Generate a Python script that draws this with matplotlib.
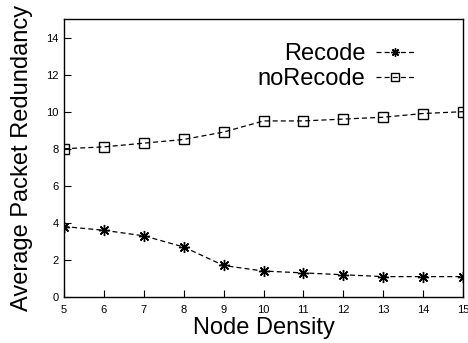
import matplotlib
matplotlib.use("Agg")
import matplotlib.pyplot as plt

plt.rcParams['font.family'] = ['Liberation Sans', 'DejaVu Sans']

node_density = [5, 6, 7, 8, 9, 10, 11, 12, 13, 14, 15]
recode = [3.8, 3.6, 3.3, 2.7, 1.7, 1.4, 1.3, 1.2, 1.1, 1.1, 1.1]
no_recode = [8.0, 8.1, 8.3, 8.5, 8.9, 9.5, 9.5, 9.6, 9.7, 9.9, 10.0]
y_ticks = [0, 2, 4, 6, 8, 10, 12, 14]

fig = plt.figure(figsize=(4.68, 3.43), dpi=100)
ax = fig.add_axes([64/468, 1-297/343, (463-64)/468, (297-19)/343])

dash = (0, (4, 2.5))
ax.plot(node_density, recode, linestyle=dash, color='black', linewidth=0.9,
        marker=(8, 2, 0), markersize=8, markeredgewidth=1.0, label='Recode')
ax.plot(node_density, no_recode, linestyle=dash, color='black', linewidth=0.9,
        marker='s', markersize=7.5, markerfacecolor='none', markeredgewidth=1.0, label='noRecode')

ax.set_xlim(5, 15)
ax.set_ylim(0, 15)
ax.set_xticks(node_density)
ax.set_yticks(y_ticks)
ax.tick_params(direction='in', length=5, width=0.8, labelsize=8, top=False, right=False)
ax.tick_params(axis='x', pad=6)
ax.tick_params(axis='y', pad=4)
for s in ax.spines.values():
    s.set_linewidth(1.0)

ax.set_xlabel('Node Density', fontsize=17, labelpad=1)
ax.set_ylabel('Average Packet Redundancy', fontsize=17, labelpad=9)

leg = ax.legend(loc='upper right', bbox_to_anchor=(0.90, 0.947), borderaxespad=0,
                frameon=False, markerfirst=False, fontsize=17,
                handlelength=1.6, handletextpad=0.45, labelspacing=0.13)
for h in leg.legend_handles:
    h.set_markersize(6)

fig.savefig('out.png', dpi=100)
